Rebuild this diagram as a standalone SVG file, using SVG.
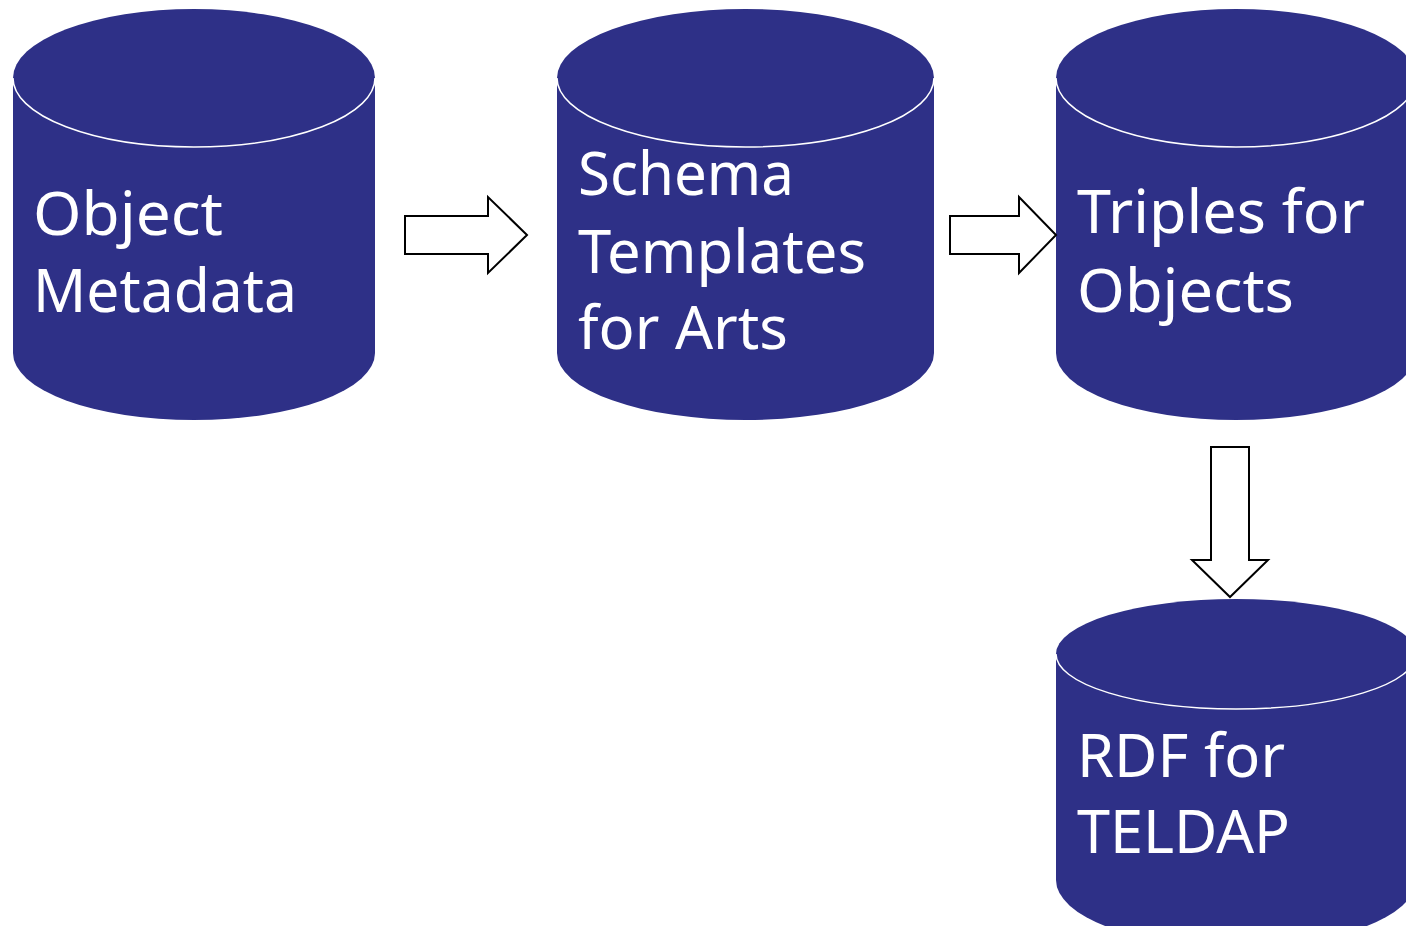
<svg xmlns="http://www.w3.org/2000/svg" width="1406" height="926" viewBox="0 0 1406 926">
<style>
.body{fill:#2E3087;stroke:none}
.rim{fill:none;stroke:#FFFFFF;stroke-width:1.5}
.lbl{fill:#FFFFFF;font-family:"Noto Sans","Open Sans",sans-serif;font-size:60px}
.arrow{fill:#FFFFFF;stroke:#000000;stroke-width:2;stroke-linejoin:miter}
</style>
<rect width="1406" height="926" fill="#FFFFFF"/>
<g id="node-object-metadata">
<path class="body" d="M13,78 A181,69 0 0 1 375,78 L375,353 A181,67 0 0 1 13,353 Z"/>
<path class="rim" d="M13,78 A181,69 0 0 0 375,78"/>
<text class="lbl" x="33" y="235" textLength="190" lengthAdjust="spacingAndGlyphs">Object</text>
<text class="lbl" x="33" y="312" textLength="264" lengthAdjust="spacingAndGlyphs">Metadata</text>
</g>
<g id="node-schema-templates">
<path class="body" d="M557,78 A188.5,69 0 0 1 934,78 L934,353 A188.5,67 0 0 1 557,353 Z"/>
<path class="rim" d="M557,78 A188.5,69 0 0 0 934,78"/>
<text class="lbl" x="578" y="195" textLength="216" lengthAdjust="spacingAndGlyphs">Schema</text>
<text class="lbl" x="578" y="273" textLength="288" lengthAdjust="spacingAndGlyphs">Templates</text>
<text class="lbl" x="578" y="349" textLength="210" lengthAdjust="spacingAndGlyphs">for Arts</text>
</g>
<g id="node-triples">
<path class="body" d="M1056,78 A180,69 0 0 1 1416,78 L1416,353 A180,67 0 0 1 1056,353 Z"/>
<path class="rim" d="M1056,78 A180,69 0 0 0 1416,78"/>
<text class="lbl" x="1077" y="233" textLength="288" lengthAdjust="spacingAndGlyphs">Triples for</text>
<text class="lbl" x="1077" y="312" textLength="217" lengthAdjust="spacingAndGlyphs">Objects</text>
</g>
<g id="node-rdf">
<path class="body" d="M1056,654 A180,55 0 0 1 1416,654 L1416,880 A180,67 0 0 1 1056,880 Z"/>
<path class="rim" d="M1056,654 A180,55 0 0 0 1416,654"/>
<text class="lbl" x="1077" y="777" textLength="208" lengthAdjust="spacingAndGlyphs">RDF for</text>
<text class="lbl" x="1077" y="853" textLength="213" lengthAdjust="spacingAndGlyphs">TELDAP</text>
</g>
<g id="connectors">
<polygon class="arrow" points="405,216 488,216 488,197 527,235 488,273 488,254 405,254"/>
<polygon class="arrow" points="950,216 1019,216 1019,197 1056,235 1019,273 1019,254 950,254"/>
<polygon class="arrow" points="1211,447 1249,447 1249,560 1268,560 1230,597 1192,560 1211,560"/>
</g>
</svg>
